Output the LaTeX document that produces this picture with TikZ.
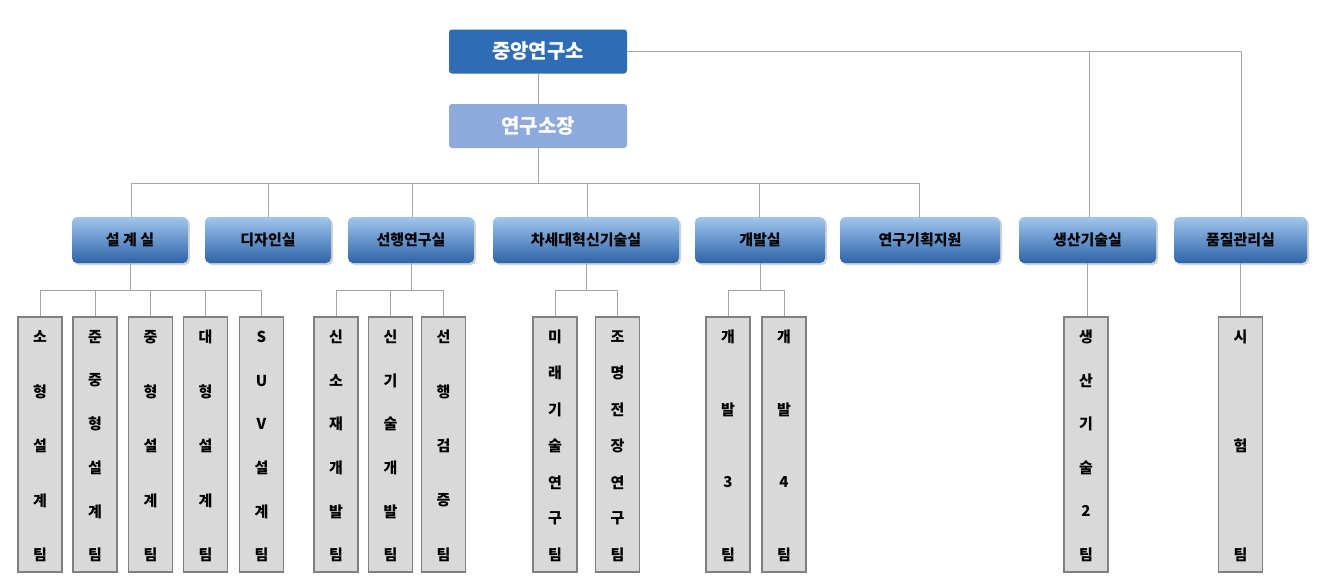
\documentclass[tikz,border=0pt]{standalone}
\usepackage{fontspec}
\setmainfont{Noto Sans CJK KR}
\usetikzlibrary{shadows}
\definecolor{linie}{RGB}{166,166,166}
\definecolor{zentral}{RGB}{46,109,180}
\definecolor{leiter}{RGB}{142,169,219}
\definecolor{blauhell}{RGB}{160,198,236}
\definecolor{blaudunkel}{RGB}{44,100,170}
\definecolor{teamgrau}{RGB}{217,217,217}
\definecolor{teamrand}{RGB}{128,128,128}

\tikzset{
  topbox/.style={rounded corners=3pt, minimum width=178, minimum height=44, font=\fontsize{20}{22}\selectfont\bfseries, text=white, inner sep=0},
  abtbox/.style={rounded corners=5pt, minimum height=46, top color=blauhell, bottom color=blaudunkel, drop shadow={opacity=0.35, shadow xshift=2pt, shadow yshift=-2pt}, font=\fontsize{15}{17}\selectfont\bfseries, inner sep=0},
  teambox/.style={draw=teamrand, line width=1.5pt, fill=teamgrau, minimum width=44, minimum height=255, inner sep=0},
  zeichen/.style={font=\fontsize{15}{17}\selectfont\bfseries},
  verb/.style={draw=linie, line width=1pt}
}

% Teamkasten: Name, x-Mitte, Zeichenliste, Anzahl
\newcommand{\teamsaeule}[4]{
  \node[teambox] (#1) at (#2,444.5) {};
  \foreach \z [count=\i] in {#3}
    \node[zeichen] at (#2,{337+(\i-1)*218/(#4-1)}) {\z};
}

\begin{document}
\begin{tikzpicture}[x=1pt, y=-1pt]
	\useasboundingbox (0,0) rectangle (1335,584);

	% Spitze
	\node[topbox, fill=zentral] (zentrale) at (538,51.5) {중앙연구소};
	\node[topbox, fill=leiter] (leitung) at (538,126) {연구소장};
	\draw[verb] (zentrale) -- (leitung);
	\draw[verb] (leitung.south) -- (538,183);
	\draw[verb] (131,217) -- (131,183) -- (919,183) -- (919,217);
	\draw[verb] (zentrale.east) -- (1241,51.5) -- (1241,217);
	\draw[verb] (1089,51.5) -- (1089,217);
	\foreach \x in {268,412,587,759}
		\draw[verb] (\x,183) -- (\x,217);

	% Abteilungen
	\node[abtbox, minimum width=116] (sekkye) at (130,240) {설 계 실};
	\node[abtbox, minimum width=126] (dijain) at (268,240) {디자인실};
	\node[abtbox, minimum width=126] (seonhaeng) at (411,240) {선행연구실};
	\node[abtbox, minimum width=186] (chasedae) at (586,240) {차세대혁신기술실};
	\node[abtbox, minimum width=130] (gaebal) at (760,240) {개발실};
	\node[abtbox, minimum width=160] (gihoek) at (920,240) {연구기획지원};
	\node[abtbox, minimum width=137] (saengsan) at (1087.5,240) {생산기술실};
	\node[abtbox, minimum width=133] (pumjil) at (1240.5,240) {품질관리실};

	% Teams
	\teamsaeule{sohyeong}{40}{소,형,설,계,팀}{5}
	\teamsaeule{junjung}{95}{준,중,형,설,계,팀}{6}
	\teamsaeule{junghyeong}{150.5}{중,형,설,계,팀}{5}
	\teamsaeule{daehyeong}{205.5}{대,형,설,계,팀}{5}
	\teamsaeule{suv}{261.5}{S,U,V,설,계,팀}{6}
	\teamsaeule{sinsojae}{336}{신,소,재,개,발,팀}{6}
	\teamsaeule{singisul}{390.5}{신,기,술,개,발,팀}{6}
	\teamsaeule{geomjeung}{443.5}{선,행,검,증,팀}{5}
	\teamsaeule{mirae}{555}{미,래,기,술,연,구,팀}{7}
	\teamsaeule{jomyeong}{617.5}{조,명,전,장,연,구,팀}{7}
	\teamsaeule{gaebalsam}{728}{개,발,3,팀}{4}
	\teamsaeule{gaebalsa}{784}{개,발,4,팀}{4}
	\teamsaeule{saengsanteam}{1086}{생,산,기,술,2,팀}{6}
	\teamsaeule{siheom}{1240.5}{시,험,팀}{3}

	% Verbindungen zu Teams
	\draw[verb] (sekkye.south) -- (130,290);
	\draw[verb] (40,290) -- (261.5,290);
	\foreach \t in {sohyeong,junjung,junghyeong,daehyeong,suv}
		\draw[verb] (\t.north) -- (\t.north |- 0,290);
	\draw[verb] (seonhaeng.south) -- (411,290);
	\draw[verb] (336,290) -- (443.5,290);
	\foreach \t in {sinsojae,singisul,geomjeung}
		\draw[verb] (\t.north) -- (\t.north |- 0,290);
	\draw[verb] (chasedae.south) -- (586,290);
	\draw[verb] (555,290) -- (617.5,290);
	\foreach \t in {mirae,jomyeong}
		\draw[verb] (\t.north) -- (\t.north |- 0,290);
	\draw[verb] (gaebal.south) -- (760,290);
	\draw[verb] (728,290) -- (784,290);
	\foreach \t in {gaebalsam,gaebalsa}
		\draw[verb] (\t.north) -- (\t.north |- 0,290);
	\draw[verb] (saengsan.south) -- (saengsanteam.north -| saengsan.south);
	\draw[verb] (pumjil.south) -- (siheom.north);
\end{tikzpicture}
\end{document}
